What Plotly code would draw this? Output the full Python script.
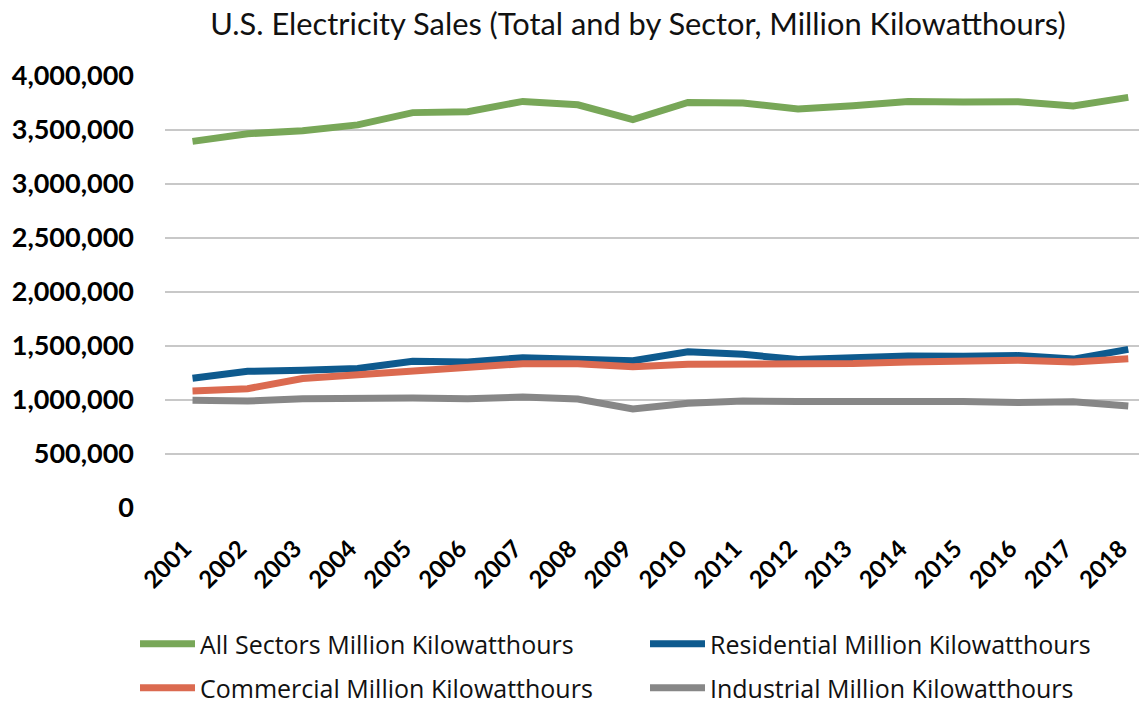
import plotly.graph_objects as go

years = [str(y) for y in range(2001, 2019)]
all_sectors = [3394458, 3465466, 3493734, 3547479, 3660969, 3669919, 3764561, 3732962, 3596795,
               3754841, 3749846, 3694650, 3724868, 3764700, 3758992, 3762462, 3723356, 3802117]
residential = [1201607, 1265180, 1275824, 1291982, 1359227, 1351520, 1392241, 1379981, 1364474,
               1445708, 1422801, 1374515, 1394812, 1407208, 1404096, 1411058, 1378648, 1469093]
commercial = [1083069, 1104497, 1198728, 1230425, 1275079, 1299744, 1336315, 1335981, 1307168,
              1330199, 1328057, 1327101, 1337079, 1352158, 1360752, 1367191, 1352888, 1381755]
industrial = [996609, 990238, 1012373, 1017850, 1019156, 1011298, 1027832, 1009300, 917442,
              970873, 991316, 985714, 985352, 997576, 986508, 976619, 984298, 943710]

series = [
    ("All Sectors Million Kilowatthours", all_sectors, "#78A758", "legend"),
    ("Residential Million Kilowatthours", residential, "#0E5A8E", "legend2"),
    ("Commercial Million Kilowatthours", commercial, "#DB6A50", "legend3"),
    ("Industrial Million Kilowatthours", industrial, "#878787", "legend4"),
]

# page body has an 8px margin; figure sized so it ends at the window edge
W, H = 1139, 693
FONT = "Lato"
LEG_FONT = dict(family="Open Sans", size=25, color="#111111")
fig = go.Figure()
for name, vals, col, leg in series:
    fig.add_trace(go.Scatter(x=list(range(len(years))), y=vals, name=name, mode="lines",
                             line=dict(color=col, width=7), legend=leg))

leg_common = dict(orientation="h", xref="container", xanchor="left", yref="container",
                  yanchor="middle", font=LEG_FONT, itemwidth=55,
                  bgcolor="rgba(0,0,0,0)")
col_x = [127, 637]
row_y = [636, 680]

fig.update_layout(
    width=W, height=H,
    paper_bgcolor="white", plot_bgcolor="white",
    margin=dict(l=157, r=0, t=68, b=193, autoexpand=False),
    title=dict(text="U.S. Electricity Sales (Total and by Sector, Million Kilowatthours)",
               x=630/W, xanchor="center", xref="container", y=1-16/H, yanchor="middle",
               font=dict(family=FONT, size=30.8, color="#111111")),
    font=dict(family=FONT, color="#000000"),
    showlegend=True,
    legend=dict(x=col_x[0]/W, y=1-row_y[0]/H, **leg_common),
    legend2=dict(x=col_x[1]/W, y=1-row_y[0]/H, **leg_common),
    legend3=dict(x=col_x[0]/W, y=1-row_y[1]/H, **leg_common),
    legend4=dict(x=col_x[1]/W, y=1-row_y[1]/H, **leg_common),
)
fig.update_xaxes(
    range=[-0.5, 17.34], tickmode="array", tickvals=list(range(len(years))), ticktext=years,
    tickangle=-45, showgrid=False, zeroline=False, showline=False, ticks="",
    ticklabelstandoff=21, ticklabelshift=-8,
    tickfont=dict(family=FONT, size=24, color="#000000", weight="bold"),
)
fig.update_yaxes(
    range=[0, 4000000], dtick=500000, tickformat=",d", showgrid=True, gridcolor="#C8C8C8",
    gridwidth=2, zeroline=False, showline=False, ticks="", ticklabelstandoff=30,
    tickfont=dict(family=FONT, size=27, color="#000000", weight="bold"),
)
fig.write_html("out.html")
